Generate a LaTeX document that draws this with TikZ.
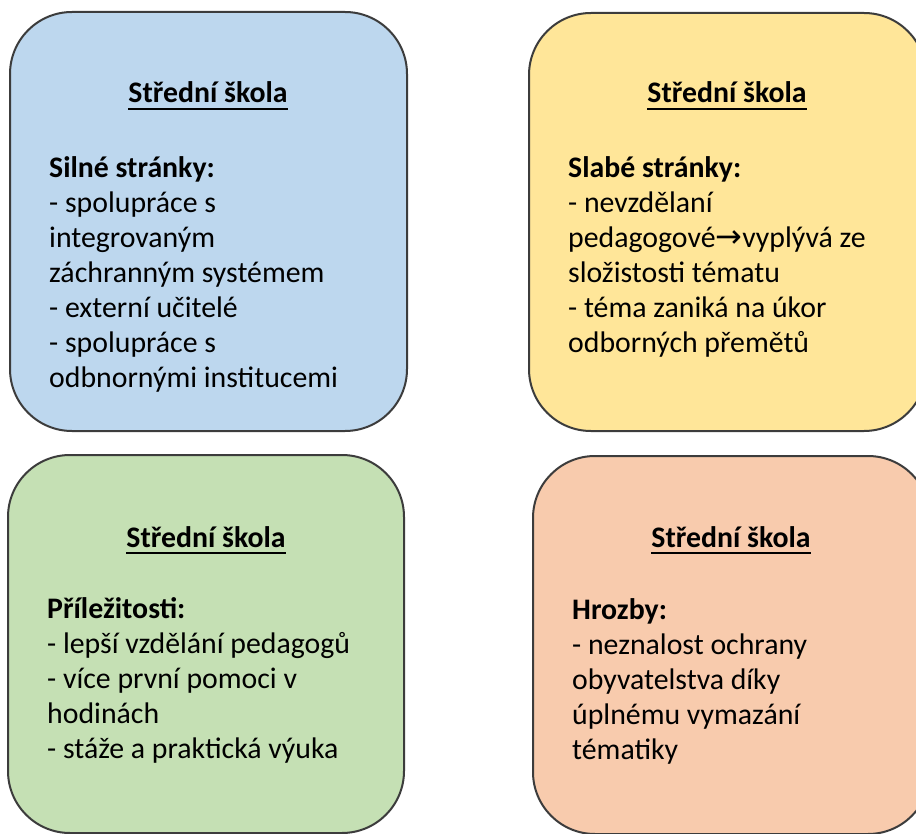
\documentclass[tikz,border=0pt]{standalone}
\usepackage{fontspec}
\setmainfont{Carlito}
\newfontfamily\arrowfont{DejaVu Sans}
\definecolor{cblue}{HTML}{BDD7EE}
\definecolor{cyellow}{HTML}{FFE699}
\definecolor{cgreen}{HTML}{C5E0B4}
\definecolor{corange}{HTML}{F8CBAD}
\definecolor{cborder}{HTML}{3C3C3C}
\begin{document}
\begin{tikzpicture}[x=1pt,y=-1pt,
  box/.style={draw=cborder,line width=2pt,rounded corners=62pt},
  title/.style={inner sep=0pt,anchor=base,font=\fontsize{29.8}{35}\selectfont\bfseries},
  body/.style={inner sep=0pt,anchor=north west,align=left,font=\fontsize{29.8}{35}\selectfont},
  uline/.style={line width=1.8pt,black}]
\useasboundingbox (0,0) rectangle (916,834);
\clip (0,0) rectangle (916,834);
\fill[white] (0,0) rectangle (916,834);
% boxes
\path[box,fill=cblue]   (10,12)  rectangle (407,431);
\path[box,fill=cyellow] (529,13) rectangle (926,431);
\path[box,fill=cgreen]  (8,455)  rectangle (404,833);
\path[box,fill=corange] (533,456) rectangle (930,834);
% titles
\node[title] (t1) at (208,103) {Střední škola};
\node[title] (t2) at (727,103) {Střední škola};
\node[title] (t3) at (206,547) {Střední škola};
\node[title] (t4) at (731,547) {Střední škola};
\foreach \t in {t1,t2,t3,t4}
  \draw[uline] ([yshift=-6pt]\t.base west) -- ([yshift=-6pt]\t.base east);
% bodies
\node[body] (b1) at (49,152.5) {\strut\textbf{Silné stránky:}\\
- spolupráce s\\
integrovaným\\
záchranným systémem\\
- externí učitelé\\
- spolupráce s\\
odbnornými institucemi};
\node[body] (b2) at (568,152.5) {\strut\textbf{Slabé stránky:}\\
- nevzdělaní\\
pedagogové{\arrowfont\fontsize{32}{35}\selectfont →}vyplývá ze\\
složistosti tématu\\
- téma zaniká na úkor\\
odborných přemětů};
\node[body] (b3) at (47,593.5) {\strut\textbf{Příležitosti:}\\
- lepší vzdělání pedagogů\\
- více první pomoci v\\
hodinách\\
- stáže a praktická výuka};
\node[body] (b4) at (572,594.5) {\strut\textbf{Hrozby:}\\
- neznalost ochrany\\
obyvatelstva díky\\
úplnému vymazání\\
tématiky};
\end{tikzpicture}
\end{document}
